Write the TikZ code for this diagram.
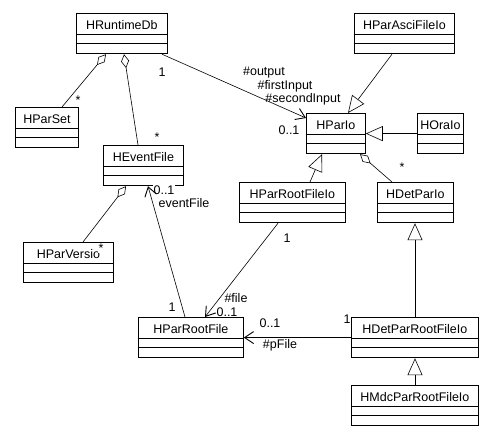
\documentclass[tikz,border=0pt]{standalone}
\usepackage{fontspec}
\setmainfont{Liberation Sans}
\usetikzlibrary{shapes.multipart}
\usetikzlibrary{arrows.meta}

\newcommand{\umlclass}[1]{\rule[-4pt]{0pt}{20pt}#1\nodepart{two}\rule{0pt}{8pt}\nodepart{three}\rule{0pt}{10pt}}

\begin{document}
\begin{tikzpicture}[x=1pt, y=-1pt,
  font=\fontsize{12.5}{14}\selectfont,
  class/.style={draw, line width=0.8pt, rectangle split, rectangle split parts=3,
    anchor=north west, inner xsep=0pt, inner ysep=0pt},
  lbl/.style={fill=white, inner sep=0.5pt},
  assoc/.style={line width=0.6pt, -{Straight Barb[length=9pt,width=12pt,line width=0.9pt]}},
  aggr/.style={line width=0.6pt, {Diamond[open,length=14pt,width=8pt]}-},
  gen/.style={line width=0.6pt, -{Triangle[open,length=17pt,width=15pt]}}]
  \useasboundingbox (0,0) rectangle (483,431);
  \node[class, minimum width=91pt]  (db)     at (76,13)   {\umlclass{HRuntimeDb}};
  \node[class, minimum width=63pt]  (ps)     at (15,107)  {\umlclass{HParSet}};
  \node[class, minimum width=80pt]  (ef)     at (103,145) {\umlclass{HEventFile}};
  \node[class, minimum width=100pt] (asc)    at (354,13)  {\umlclass{HParAsciFileIo}};
  \node[class, minimum width=59pt]  (pio)    at (306,113) {\umlclass{HParIo}};
  \node[class, minimum width=46pt]  (ora)    at (417,113) {\umlclass{HOraIo}};
  \node[class, minimum width=106pt] (prfio)  at (239,182) {\umlclass{HParRootFileIo}};
  \node[class, minimum width=76pt]  (dpio)   at (377,182) {\umlclass{HDetParIo}};
  \node[class, minimum width=90pt]  (pv)     at (23,242)  {\umlclass{HParVersio}};
  \node[class, minimum width=105pt] (prf)    at (138,317) {\umlclass{HParRootFile}};
  \node[class, minimum width=127pt] (dprfio) at (351,317) {\umlclass{HDetParRootFileIo}};
  \node[class, minimum width=127pt] (mdc)    at (351,385) {\umlclass{HMdcParRootFileIo}};

  \node[lbl] (m-ps)    at (78,100)  {*};
  \node[lbl] (m-ef)    at (157,137) {*};
  \node[lbl] (m-db)    at (162,72)  {1};
  \node[lbl] (r-out)   at (264,73)  {\#output};
  \node[lbl] (r-first) at (285,86)  {\#firstInput};
  \node[lbl] (r-sec)   at (303,99)  {\#secondInput};
  \node[lbl] (m-pio)   at (289,130) {0..1};
  \node[lbl] (m-dpio)  at (402,167) {*};
  \node[lbl] (m-pv)    at (101,248) {*};
  \node[lbl] (m-ef2)   at (164,190) {0..1};
  \node[lbl] (r-ef)    at (184,203) {eventFile};
  \node[lbl] (m-prf)   at (172,307) {1};
  \node[lbl] (m-prfio) at (287,238) {1};
  \node[lbl] (r-file)  at (236,298) {\#file};
  \node[lbl] (m-prf2)  at (227,312) {0..1};
  \node[lbl] (m-prf3)  at (270,323) {0..1};
  \node[lbl] (r-pfile) at (280,345) {\#pFile};
  \node[lbl] (m-dprf)  at (347,319) {1};

  \draw[aggr]  ([xshift=30pt]db.south west) -- ([xshift=47pt]ps.north west);
  \draw[aggr]  ([xshift=48pt]db.south west) -- ([xshift=35pt]ef.north west);
  \draw[assoc] ([xshift=86pt]db.south west) -- ([yshift=-5pt]pio.north west);
  \draw[gen]   ([xshift=38pt]asc.south west) -- ([xshift=42pt]pio.north west);
  \draw[gen]   (ora.west) -- (pio.east);
  \draw[gen]   ([xshift=71pt]prfio.north west) -- ([xshift=16pt]pio.south west);
  \draw[aggr]  ([xshift=54pt]pio.south west) -- ([xshift=15pt]dpio.north west);
  \draw[aggr]  ([xshift=23pt]ef.south west) -- ([xshift=60pt]pv.north west);
  \draw[assoc] ([xshift=47pt]prf.north west) -- ([xshift=45pt]ef.south west);
  \draw[assoc] ([xshift=39pt]prfio.south west) -- ([xshift=67pt]prf.north west);
  \draw[assoc] (dprfio.west) -- (prf.east);
  \draw[gen]   ([xshift=64pt]dprfio.north west) -- ([xshift=38pt]dpio.south west);
  \draw[gen]   ([xshift=64pt]mdc.north west) -- ([xshift=64pt]dprfio.south west);
\end{tikzpicture}
\end{document}
